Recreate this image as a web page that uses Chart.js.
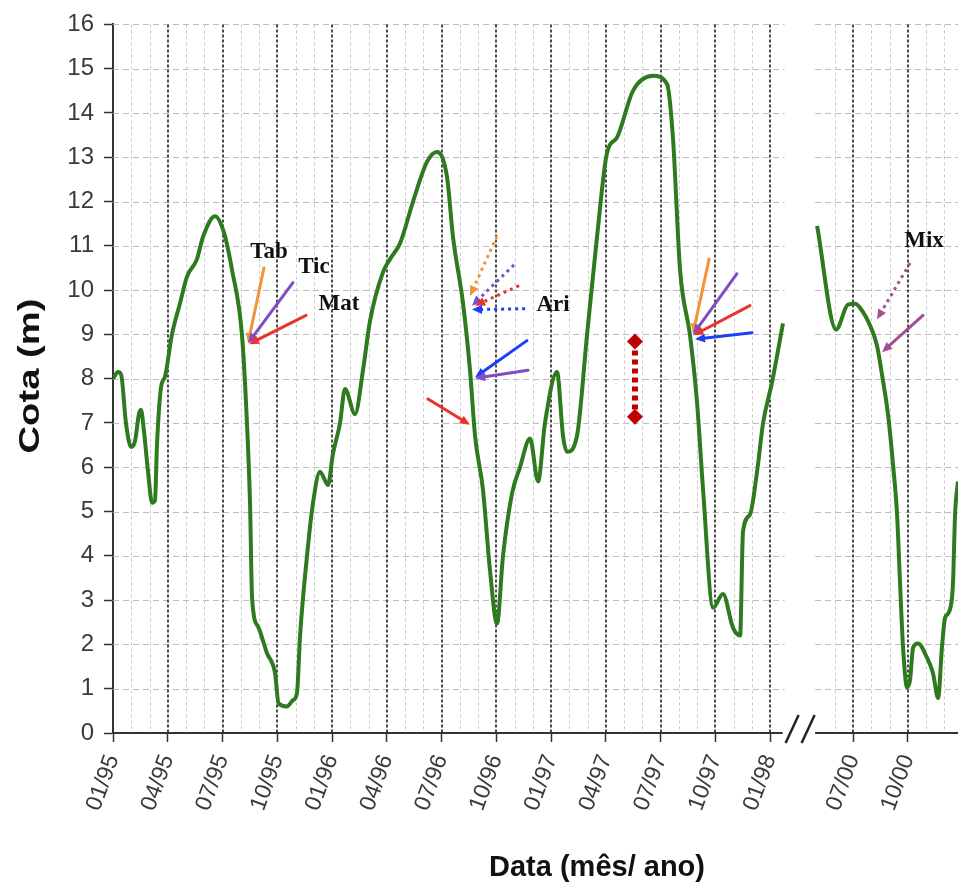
<!DOCTYPE html>
<html>
<head>
<meta charset="utf-8">
<script src="https://cdn.jsdelivr.net/npm/chart.js@4/dist/chart.umd.min.js"></script>
<style>
    html, body { margin: 0; padding: 0; background: #fff; }
</style>
</head>
<body>
<canvas id="grafico" width="958" height="891"></canvas>
<script>
// meses contados a partir de 01/95 (0 = jan/1995)
var mesesA = [0.0, 0.27, 0.44, 0.71, 0.99, 1.21, 1.42, 1.53, 1.70, 1.92, 2.14, 2.30, 2.41, 2.63, 2.85, 3.23, 3.67, 4.05, 4.60, 4.93,
    5.59, 6.08, 6.52, 7.07, 7.34, 7.51, 7.62, 7.95, 8.44, 8.88, 9.07, 9.53, 9.86, 10.08, 10.25, 10.68, 10.96, 11.34, 11.78, 12.05,
    12.44, 12.71, 13.26, 13.70, 14.08, 14.79, 15.18, 15.73, 16.44, 17.21, 17.75, 18.30, 18.63, 19.18, 19.56, 19.84, 20.27, 20.66, 21.04, 21.37,
    21.86, 22.30, 22.85, 23.29, 23.67, 24.33, 24.66, 24.88, 25.42, 25.97, 26.52, 27.07, 27.62, 28.49, 29.59, 30.36, 30.68, 31.07, 31.62, 32.00,
    32.33, 32.88, 33.42, 33.97, 34.36, 34.52, 34.90, 35.29, 35.62, 36.11, 36.71];
var cotaA = [8.0, 8.15, 8.1, 7.0, 6.46, 6.6, 7.2, 7.3, 6.8, 5.9, 5.2, 5.25, 6.5, 7.8, 8.05, 9.0, 9.7, 10.3, 10.7, 11.2,
    11.67, 11.3, 10.46, 8.97, 7.0, 5.16, 3.05, 2.4, 1.8, 1.35, 0.67, 0.6, 0.74, 0.9, 2.2, 4.2, 5.2, 5.9, 5.6, 6.3,
    7.0, 7.77, 7.2, 8.2, 9.3, 10.4, 10.7, 11.06, 12.0, 12.9, 13.12, 12.56, 11.2, 9.7, 8.2, 6.7, 5.5, 3.66, 2.47, 4.0,
    5.4, 6.0, 6.65, 5.68, 7.0, 8.15, 6.7, 6.35, 6.7, 8.97, 11.2, 13.1, 13.45, 14.5, 14.84, 14.65, 13.45, 10.46, 8.97, 7.47,
    5.5, 2.83, 3.14, 2.38, 2.2, 4.55, 4.93, 5.9, 7.0, 7.92, 9.25];

// trecho de 2000 (mesmo contador de meses)
var mesesB = [64.03, 65.07, 65.72, 66.11, 66.38, 66.93, 67.31, 67.59, 67.92, 68.19, 68.41, 68.57, 68.74, 68.96, 69.12, 69.29,
    69.56, 70.05, 70.38, 70.66, 70.87, 71.04, 71.20, 71.42, 71.48, 71.59, 71.75];
var cotaB = [11.45, 9.11, 9.67, 9.69, 9.6, 9.2, 8.75, 8.08, 7.18, 6.06, 4.94, 3.43, 1.93, 1.03, 1.19, 1.93,
    2.02, 1.7, 1.35, 0.79, 1.93, 2.6, 2.69, 3.05, 3.43, 4.94, 5.68];

var ticksMes = [0, 3, 6, 9, 12, 15, 18, 21, 24, 27, 30, 33, 36, 66, 69];
var ticksRotulo = ['01/95', '04/95', '07/95', '10/95', '01/96', '04/96', '07/96', '10/96', '01/97', '04/97', '07/97', '10/97', '01/98', '07/00', '10/00'];
var mesesMenores = [1, 2, 4, 5, 7, 8, 10, 11, 13, 14, 16, 17, 19, 20, 22, 23, 25, 26, 28, 29, 31, 32, 34, 35, 65, 67, 68, 70, 71];

// quebra do eixo: meses depois de 1998 sao puxados para a esquerda
var desloc = 25.45;
var fimPainelA = 36.8, iniPainelB = 63.92, fimEixo = 71.75;
function mx(m) { return m > 40 ? m - desloc : m; }

// anotacoes (mes, cota): [x0, y0, x1, y1, cor, pontilhada]
var laranja = '#f39237', roxo = '#7d4fc2', vermelho = '#e8332e', azul = '#1e40f5', rosa = '#a3508e';
var setas = [
    [8.27, 10.50, 7.40, 8.80, laranja, false],
    [9.86, 10.17, 7.40, 8.80, roxo, false],
    [10.58, 9.43, 7.45, 8.78, vermelho, false],
    [21.04, 11.22, 19.56, 9.87, laranja, true],
    [21.97, 10.57, 19.67, 9.65, roxo, true],
    [22.25, 10.10, 19.84, 9.65, vermelho, true],
    [22.58, 9.58, 19.67, 9.56, azul, true],
    [22.68, 8.86, 19.84, 8.03, azul, false],
    [22.74, 8.19, 19.84, 8.01, roxo, false],
    [17.26, 7.54, 19.56, 6.96, vermelho, false],
    [32.66, 10.70, 31.78, 9.02, laranja, false],
    [34.19, 10.37, 31.78, 9.0, roxo, false],
    [34.90, 9.65, 31.80, 8.98, vermelho, false],
    [35.01, 9.04, 31.89, 8.89, azul, false],
    [69.12, 10.61, 67.31, 9.34, rosa, true],
    [69.83, 9.43, 67.59, 8.60, rosa, false]
];
var rotulos = [['Tab', 8.55, 10.86], ['Tic', 11.01, 10.53], ['Mat', 12.38, 9.69], ['Ari', 24.11, 9.67], ['Mix', 69.89, 11.11]];
var faixa = [28.60, 8.84, 7.14];

var pontos = [];
for (var i = 0; i < mesesA.length; i++) pontos.push({x: mx(mesesA[i]), y: cotaA[i]});
pontos.push({x: 37.6, y: null});
for (var j = 0; j < mesesB.length; j++) pontos.push({x: mx(mesesB[j]), y: cotaB[j]});

function seta(ctx, x0, y0, x1, y1, cor, pont) {
    var ang = Math.atan2(y1 - y0, x1 - x0), h = 11;
    ctx.strokeStyle = cor;
    ctx.fillStyle = cor;
    ctx.lineWidth = 3;
    ctx.lineCap = pont ? 'butt' : 'round';
    ctx.setLineDash(pont ? [3, 4] : []);
    ctx.beginPath();
    ctx.moveTo(x0, y0);
    ctx.lineTo(x1 - h * 0.6 * Math.cos(ang), y1 - h * 0.6 * Math.sin(ang));
    ctx.stroke();
    ctx.setLineDash([]);
    ctx.beginPath();
    ctx.moveTo(x1, y1);
    ctx.lineTo(x1 - h * Math.cos(ang - 0.42), y1 - h * Math.sin(ang - 0.42));
    ctx.lineTo(x1 - h * Math.cos(ang + 0.42), y1 - h * Math.sin(ang + 0.42));
    ctx.closePath();
    ctx.fill();
}

var gradePlugin = {
    id: 'grade',
    beforeDatasetsDraw: function (chart) {
        var ctx = chart.ctx, xs = chart.scales.x, ys = chart.scales.y, area = chart.chartArea;
        var xA = xs.getPixelForValue(fimPainelA), xB = xs.getPixelForValue(mx(iniPainelB));
        ctx.save();
        ctx.lineWidth = 1;
        ctx.strokeStyle = '#bdbdbd';
        ctx.setLineDash([6, 4]);
        for (var v = 1; v <= 16; v++) {
            var y = Math.round(ys.getPixelForValue(v)) + 0.5;
            ctx.beginPath();
            ctx.moveTo(area.left, y); ctx.lineTo(xA, y);
            ctx.moveTo(xB, y); ctx.lineTo(area.right, y);
            ctx.stroke();
        }
        ctx.strokeStyle = '#c8c8c8';
        ctx.setLineDash([3, 3]);
        mesesMenores.forEach(function (m) {
            var x = Math.round(xs.getPixelForValue(mx(m))) + 0.5;
            ctx.beginPath(); ctx.moveTo(x, area.top); ctx.lineTo(x, area.bottom); ctx.stroke();
        });
        ctx.strokeStyle = '#4a4a4a';
        ctx.lineWidth = 2;
        ctx.setLineDash([3, 2]);
        ticksMes.forEach(function (m) {
            if (m === 0) return;
            var x = Math.round(xs.getPixelForValue(mx(m)));
            ctx.beginPath(); ctx.moveTo(x, area.top); ctx.lineTo(x, area.bottom); ctx.stroke();
        });
        // eixo x com a quebra
        ctx.setLineDash([]);
        ctx.strokeStyle = '#333';
        ctx.lineWidth = 2;
        var yb = area.bottom;
        ctx.beginPath();
        ctx.moveTo(area.left, yb); ctx.lineTo(xA - 2, yb);
        ctx.moveTo(xB, yb); ctx.lineTo(area.right, yb);
        ctx.stroke();
        ctx.lineWidth = 2.5;
        ctx.strokeStyle = '#222';
        ctx.beginPath();
        ctx.moveTo(xA + 1, yb + 10); ctx.lineTo(xA + 14, yb - 18);
        ctx.moveTo(xA + 17, yb + 10); ctx.lineTo(xA + 30, yb - 18);
        ctx.stroke();
        ctx.restore();
    },
    afterDatasetsDraw: function (chart) {
        var ctx = chart.ctx, xs = chart.scales.x, ys = chart.scales.y;
        ctx.save();
        setas.forEach(function (s) {
            seta(ctx, xs.getPixelForValue(mx(s[0])), ys.getPixelForValue(s[1]),
                xs.getPixelForValue(mx(s[2])), ys.getPixelForValue(s[3]), s[4], s[5]);
        });
        // faixa vermelha pontilhada
        var fx = xs.getPixelForValue(faixa[0]), f1 = ys.getPixelForValue(faixa[1]), f2 = ys.getPixelForValue(faixa[2]);
        ctx.strokeStyle = '#c00000';
        ctx.fillStyle = '#c00000';
        ctx.lineWidth = 6;
        ctx.lineCap = 'butt';
        ctx.setLineDash([5, 4]);
        ctx.beginPath(); ctx.moveTo(fx, f1); ctx.lineTo(fx, f2); ctx.stroke();
        ctx.setLineDash([]);
        [f1, f2].forEach(function (fy) {
            ctx.beginPath();
            ctx.moveTo(fx, fy - 8); ctx.lineTo(fx + 8, fy); ctx.lineTo(fx, fy + 8); ctx.lineTo(fx - 8, fy);
            ctx.closePath(); ctx.fill();
        });
        ctx.fillStyle = '#111';
        ctx.font = 'bold 23px "Liberation Serif", "Times New Roman", serif';
        ctx.textAlign = 'center';
        ctx.textBaseline = 'middle';
        rotulos.forEach(function (r) {
            ctx.fillText(r[0], xs.getPixelForValue(mx(r[1])), ys.getPixelForValue(r[2]));
        });
        ctx.restore();
    },
    afterDraw: function (chart) {
        var ctx = chart.ctx;
        ctx.save();
        ctx.fillStyle = '#111';
        ctx.textAlign = 'center';
        ctx.textBaseline = 'middle';
        ctx.font = 'bold 29px "Liberation Sans", Arial, sans-serif';
        ctx.fillText('Data (mês/ ano)', 597, 868);
        ctx.translate(31, 376);
        ctx.rotate(-Math.PI / 2);
        ctx.font = 'bold 29px "Liberation Sans", Arial, sans-serif';
        var w = ctx.measureText('Cota (m)').width;
        ctx.scale(155 / w, 1);
        ctx.fillText('Cota (m)', 0, 0);
        ctx.restore();
    }
};

var contexto = document.getElementById('grafico').getContext('2d');
var myChart = new Chart(contexto, {
    type: 'line',
    data: {
        datasets: [{
            label: 'Cota',
            data: pontos,
            borderColor: '#2e7a1f',
            borderWidth: 4,
            pointRadius: 0,
            cubicInterpolationMode: 'monotone',
            spanGaps: false,
            fill: false
        }]
    },
    options: {
        responsive: false,
        animation: false,
        layout: { padding: { top: 20, right: 0, bottom: 0, left: 0 } },
        plugins: { legend: { display: false }, tooltip: { enabled: false } },
        scales: {
            x: {
                type: 'linear',
                min: 0,
                max: mx(fimEixo),
                afterBuildTicks: function (s) {
                    s.ticks = ticksMes.map(function (m) { return {value: mx(m)}; });
                },
                afterFit: function (s) { s.height = 158; },
                ticks: {
                    autoSkip: false,
                    minRotation: 70,
                    maxRotation: 70,
                    padding: 9,
                    color: '#3a3a3a',
                    font: { family: '"Liberation Sans", Arial, sans-serif', size: 23 },
                    callback: function (v, i) { return ticksRotulo[i]; }
                },
                grid: { drawOnChartArea: false, tickLength: 9, tickColor: '#333', tickWidth: 1.5 },
                border: { display: false }
            },
            y: {
                min: 0,
                max: 16,
                afterFit: function (s) { s.width = 113; },
                ticks: {
                    stepSize: 1,
                    padding: 10,
                    color: '#3a3a3a',
                    font: { family: '"Liberation Sans", Arial, sans-serif', size: 24 }
                },
                grid: { drawOnChartArea: false, tickLength: 9, tickColor: '#333', tickWidth: 1.5 },
                border: { display: true, color: '#333', width: 2 }
            }
        }
    },
    plugins: [gradePlugin]
});
</script>
</body>
</html>
